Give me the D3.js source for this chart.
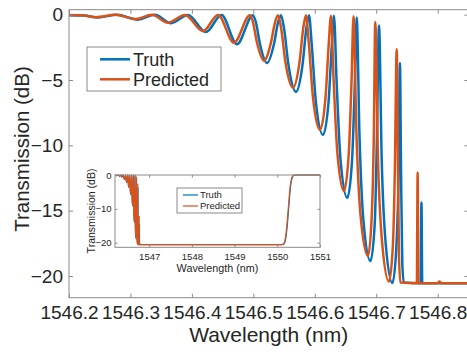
<!DOCTYPE html>
<html><head><meta charset="utf-8">
<script src="https://cdn.jsdelivr.net/npm/d3@7"></script>
<style>body{margin:0;background:#fff;} svg{display:block;font-family:Arial,"Liberation Sans",Helvetica,sans-serif;}</style>
</head><body><svg id="c" width="467" height="354"></svg>
<script>
// ---- data ----
const wavelengthPredicted = [1546.2000,1546.2212,1546.2439,1546.2749,1546.3090,1546.3351,1546.3611,1546.3888,1546.4181,1546.4425,1546.4685,1546.4945,1546.4991,1546.5059,1546.5173,1546.5287,1546.5356,1546.5401,1546.5450,1546.5523,1546.5645,1546.5751,1546.5814,1546.5857,1546.5902,1546.5971,1546.6085,1546.6174,1546.6228,1546.6264,1546.6306,1546.6369,1546.6475,1546.6552,1546.6599,1546.6630,1546.6677,1546.6748,1546.6866,1546.6925,1546.6961,1546.6984,1546.7028,1546.7096,1546.7207,1546.7270,1546.7303,1546.7333,1546.7351,1546.7370,1546.7394,1546.7661,1546.7674,1546.7687,1546.7997,1546.8029,1546.8062,1546.9000,1550.1000,1550.1500,1550.1900,1550.2250,1550.2550,1550.2800,1550.3050,1550.3350,1550.3650,1550.4100,1551.0000];
const transmissionPredicted = [-0.02,-0.05,-0.19,-0.01,-0.33,0.00,-0.61,-0.02,-1.26,-0.02,-2.15,-0.04,-0.53,-2.13,-3.52,-2.13,-0.53,-0.04,-0.98,-3.65,-5.59,-3.65,-0.98,-0.04,-2.14,-6.35,-8.81,-6.37,-2.18,-0.08,-4.91,-10.67,-13.49,-10.68,-4.94,-0.13,-8.93,-15.54,-18.47,-15.60,-9.16,-0.56,-10.89,-17.44,-20.42,-17.75,-11.90,-2.64,-10.00,-18.50,-20.50,-20.56,-12.07,-20.56,-20.56,-20.42,-20.56,-20.56,-20.56,-20.30,-18.60,-14.80,-10.20,-6.20,-3.00,-1.00,-0.20,0.00,0.00];

const wavelengthTruth = [1546.2000,1546.2244,1546.2472,1546.2781,1546.3123,1546.3399,1546.3660,1546.3936,1546.4229,1546.4482,1546.4734,1546.4994,1546.5040,1546.5108,1546.5222,1546.5336,1546.5404,1546.5450,1546.5499,1546.5572,1546.5694,1546.5800,1546.5863,1546.5906,1546.5951,1546.6019,1546.6133,1546.6223,1546.6277,1546.6312,1546.6356,1546.6421,1546.6529,1546.6605,1546.6651,1546.6682,1546.6727,1546.6794,1546.6906,1546.6976,1546.7011,1546.7045,1546.7089,1546.7155,1546.7264,1546.7325,1546.7362,1546.7386,1546.7404,1546.7424,1546.7448,1546.7723,1546.7736,1546.7749,1546.9000,1550.1100,1550.1600,1550.2000,1550.2350,1550.2650,1550.2900,1550.3150,1550.3450,1550.3750,1550.4200,1551.0000];
const transmissionTruth = [-0.04,-0.06,-0.21,-0.01,-0.38,-0.01,-0.65,-0.02,-1.33,-0.02,-2.26,-0.04,-0.55,-2.24,-3.70,-2.24,-0.55,-0.04,-1.04,-3.85,-5.90,-3.85,-1.04,-0.04,-2.33,-6.73,-9.20,-6.74,-2.36,-0.08,-5.24,-11.23,-14.02,-11.26,-5.32,-0.21,-9.16,-15.87,-18.85,-15.97,-9.47,-0.82,-11.07,-17.58,-20.54,-18.01,-12.46,-3.70,-12.00,-19.00,-20.50,-20.56,-14.37,-20.56,-20.56,-20.56,-20.30,-18.60,-14.80,-10.20,-6.20,-3.00,-1.00,-0.20,0.00,0.00];

const xTicks = [1546.2,1546.3,1546.4,1546.5,1546.6,1546.7,1546.8];
const yTicks = [0,-5,-10,-15,-20];
const insetXTicks = [1547,1548,1549,1550,1551];
const insetYTicks = [0,-10,-20];
const seriesNames = ["Truth","Predicted"];
const seriesColors = ["#0072BD","#D95319"];

// ---- drawing ----
const svg = d3.select("#c");
const FONT = 'Arial,"Liberation Sans",Helvetica,sans-serif';
const textColor = "#262626", axisColor = "#8a8a8a";
const series = [
  {name: seriesNames[0], color: seriesColors[0], pts: wavelengthTruth.map((w,i)=>[w, transmissionTruth[i]])},
  {name: seriesNames[1], color: seriesColors[1], pts: wavelengthPredicted.map((w,i)=>[w, transmissionPredicted[i]])}
];

function panel(g, cfg) {
  const {x, y, xt, yt, tickLen, fs, xPad, yPad, lw, clipId, xFmt} = cfg;
  const [x0,x1] = x.range(), [y0,y1] = y.range(); // y0 bottom, y1 top
  g.append("rect").attr("x",x0).attr("y",y1).attr("width",x1-x0).attr("height",y0-y1).attr("fill","#fff");
  svg.append("defs").append("clipPath").attr("id",clipId).append("rect")
    .attr("x",x0).attr("y",y1-2).attr("width",x1-x0).attr("height",y0-y1+2);
  const line = d3.line().x(d=>x(d[0])).y(d=>y(d[1])).curve(d3.curveMonotoneX);
  const lg = g.append("g").attr("clip-path",`url(#${clipId})`);
  series.forEach(s=>{
    lg.append("path").datum(s.pts).attr("d",line).attr("fill","none")
      .attr("stroke",s.color).attr("stroke-width",lw).attr("stroke-linejoin","round");
  });
  const style = a => {
    a.attr("font-family",FONT).attr("font-size",fs);
    a.select(".domain").remove();
    a.selectAll(".tick line").attr("stroke",axisColor);
    a.selectAll("text").attr("fill",textColor);
  };
  g.append("g").attr("transform",`translate(0,${y0})`)
    .call(d3.axisBottom(x).tickValues(xt).tickSize(-tickLen).tickPadding(xPad).tickFormat(xFmt)).call(style);
  g.append("g").attr("transform",`translate(${x0},0)`)
    .call(d3.axisLeft(y).tickValues(yt).tickSize(-tickLen).tickPadding(yPad).tickFormat(d3.format("d"))).call(style);
  g.append("g").attr("transform",`translate(0,${y1})`)
    .call(d3.axisTop(x).tickValues(xt).tickSize(-tickLen).tickFormat("")).call(style);
  g.append("g").attr("transform",`translate(${x1},0)`)
    .call(d3.axisRight(y).tickValues(yt).tickSize(-tickLen).tickFormat("")).call(style);
  g.append("rect").attr("x",x0).attr("y",y1).attr("width",x1-x0).attr("height",y0-y1)
    .attr("fill","none").attr("stroke",axisColor).attr("stroke-width",1);
}

function legend(g, cfg) {
  const {bx, by, bw, bh, lx0, lx1, tx, rows, fs, lw} = cfg;
  g.append("rect").attr("x",bx).attr("y",by).attr("width",bw).attr("height",bh)
    .attr("fill","#fff").attr("stroke",axisColor).attr("stroke-width",1);
  series.forEach((s,i)=>{
    g.append("line").attr("x1",lx0).attr("x2",lx1).attr("y1",rows[i]).attr("y2",rows[i])
      .attr("stroke",s.color).attr("stroke-width",lw);
    g.append("text").attr("x",tx).attr("y",rows[i]).attr("dy","0.35em")
      .attr("font-size",fs).attr("fill",textColor).text(s.name);
  });
}

// main panel
const x = d3.scaleLinear().domain([1546.2,1546.85]).range([69,468.4]);
const y = d3.scaleLinear().domain([-21.66,0.38]).range([297.7,9.7]);
const main = svg.append("g");
panel(main, {x, y, xt:xTicks, yt:yTicks, tickLen:4, fs:19, xPad:8.3, yPad:6, lw:2.5, clipId:"clipMain", xFmt:d3.format(".1f")});
main.append("text").attr("x",268.7).attr("y",342).attr("text-anchor","middle")
  .attr("font-size",21).attr("fill",textColor).text("Wavelength (nm)");
main.append("text").attr("transform","translate(29,149) rotate(-90)").attr("text-anchor","middle")
  .attr("font-size",20.5).attr("fill",textColor).text("Transmission (dB)");
legend(main, {bx:87, by:47, bw:134, bh:44, lx0:100, lx1:130, tx:133, rows:[59.3,79.3], fs:18, lw:2.5});

// inset panel
const xi = d3.scaleLinear().domain([1546.2,1551]).range([115,320]);
const yi = d3.scaleLinear().domain([-21.37,0]).range([247.3,175]);
const inset = svg.append("g");
panel(inset, {x:xi, y:yi, xt:insetXTicks, yt:insetYTicks, tickLen:2.5, fs:9.5, xPad:6, yPad:3.5, lw:1.2, clipId:"clipInset", xFmt:d3.format("d")});
inset.append("text").attr("x",217.5).attr("y",272).attr("text-anchor","middle")
  .attr("font-size",10.8).attr("fill",textColor).text("Wavelength (nm)");
inset.append("text").attr("transform","translate(95,211) rotate(-90)").attr("text-anchor","middle")
  .attr("font-size",10.5).attr("fill",textColor).text("Transmission (dB)");
legend(inset, {bx:177, by:188, bw:65, bh:25, lx0:183, lx1:198, tx:200, rows:[195,206], fs:9.5, lw:1.2});
</script></body></html>
